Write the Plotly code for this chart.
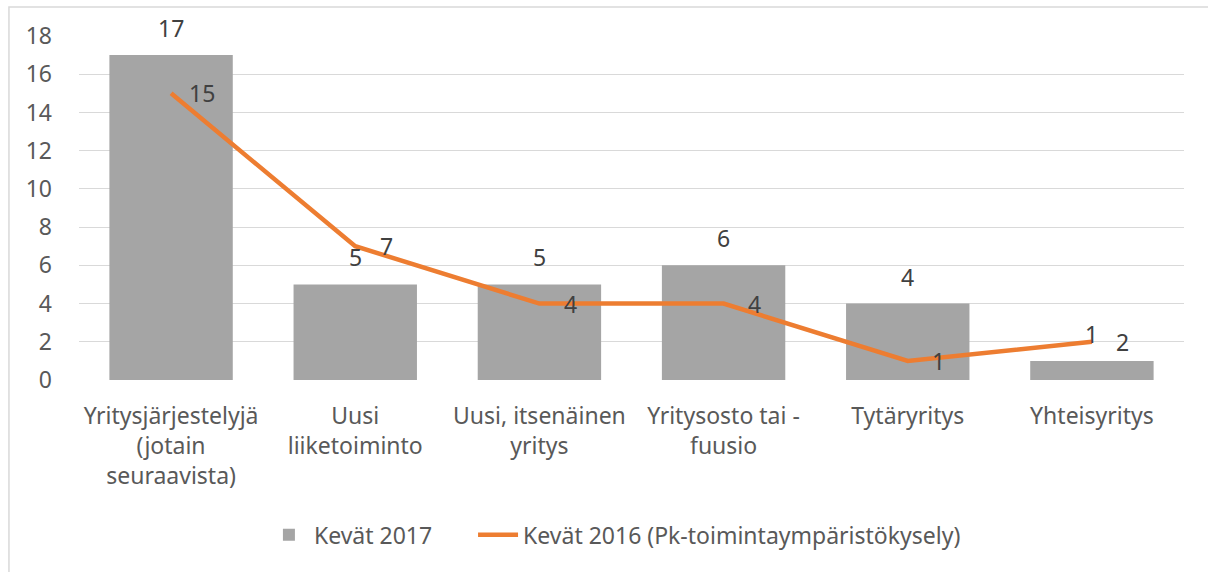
import plotly.graph_objects as go

categories = ["Yritysjärjestelyjä<br>(jotain<br>seuraavista)", "Uusi<br>liiketoiminto",
              "Uusi, itsenäinen<br>yritys", "Yritysosto tai -<br>fuusio", "Tytäryritys", "Yhteisyritys"]
kevat_2017 = [17, 5, 5, 6, 4, 1]
kevat_2016 = [15, 7, 4, 4, 1, 2]
y_ticks = [0, 2, 4, 6, 8, 10, 12, 14, 16, 18]

FONT = "Noto Sans"
TXT = "#404040"
AXT = "#595959"

fig = go.Figure()
fig.add_trace(go.Bar(
    x=categories, y=kevat_2017, name="Kevät 2017" + "\u00a0" * 6,
    marker=dict(color="#A5A5A5", line=dict(width=0)),
))
fig.add_trace(go.Scatter(
    x=categories, y=kevat_2016, name="Kevät 2016 (Pk-toimintaympäristökysely)",
    mode="lines", line=dict(color="#ED7D31", width=4.5), cliponaxis=False,
))

annotations = []
for c, v in zip(categories, kevat_2017):
    annotations.append(dict(x=c, y=v, xref="x", yref="y", text=str(v), showarrow=False,
                            xanchor="center", yanchor="middle", yshift=27,
                            font=dict(family=FONT, size=23, color=TXT)))
for c, v in zip(categories, kevat_2016):
    annotations.append(dict(x=c, y=v, xref="x", yref="y", text=str(v), showarrow=False,
                            xanchor="center", yanchor="middle", xshift=31,
                            font=dict(family=FONT, size=23, color=TXT)))

fig.update_layout(
    width=1208, height=572,
    margin=dict(l=79, r=24, t=36, b=192),
    paper_bgcolor="white", plot_bgcolor="white",
    bargap=0.33,
    font=dict(family=FONT, size=23, color=AXT),
    showlegend=True,
    legend=dict(orientation="h", x=0.485, xanchor="center", y=-0.45, yanchor="middle",
                font=dict(family=FONT, size=23, color=AXT), itemwidth=40,
                traceorder="normal"),
    annotations=annotations,
    shapes=[dict(type="rect", xref="paper", yref="paper",
                 x0=-0.0634, x1=1.05, y0=-0.6, y1=1.084,
                 line=dict(color="#D9D9D9", width=1.5), fillcolor="rgba(0,0,0,0)", layer="below")],
)
fig.update_xaxes(showgrid=False, showline=False, ticks="", tickfont=dict(size=23, color=AXT),
                 ticklabelstandoff=20)
fig.update_yaxes(range=[0, 18], tickvals=y_ticks, showgrid=True, gridcolor="#D9D9D9", gridwidth=1.3,
                 zeroline=False, showline=False, ticks="", tickfont=dict(size=23, color=AXT),
                 ticklabelstandoff=26)

fig.write_html("out.html", config={"displayModeBar": False},
               post_script="document.body.style.margin='0';")
